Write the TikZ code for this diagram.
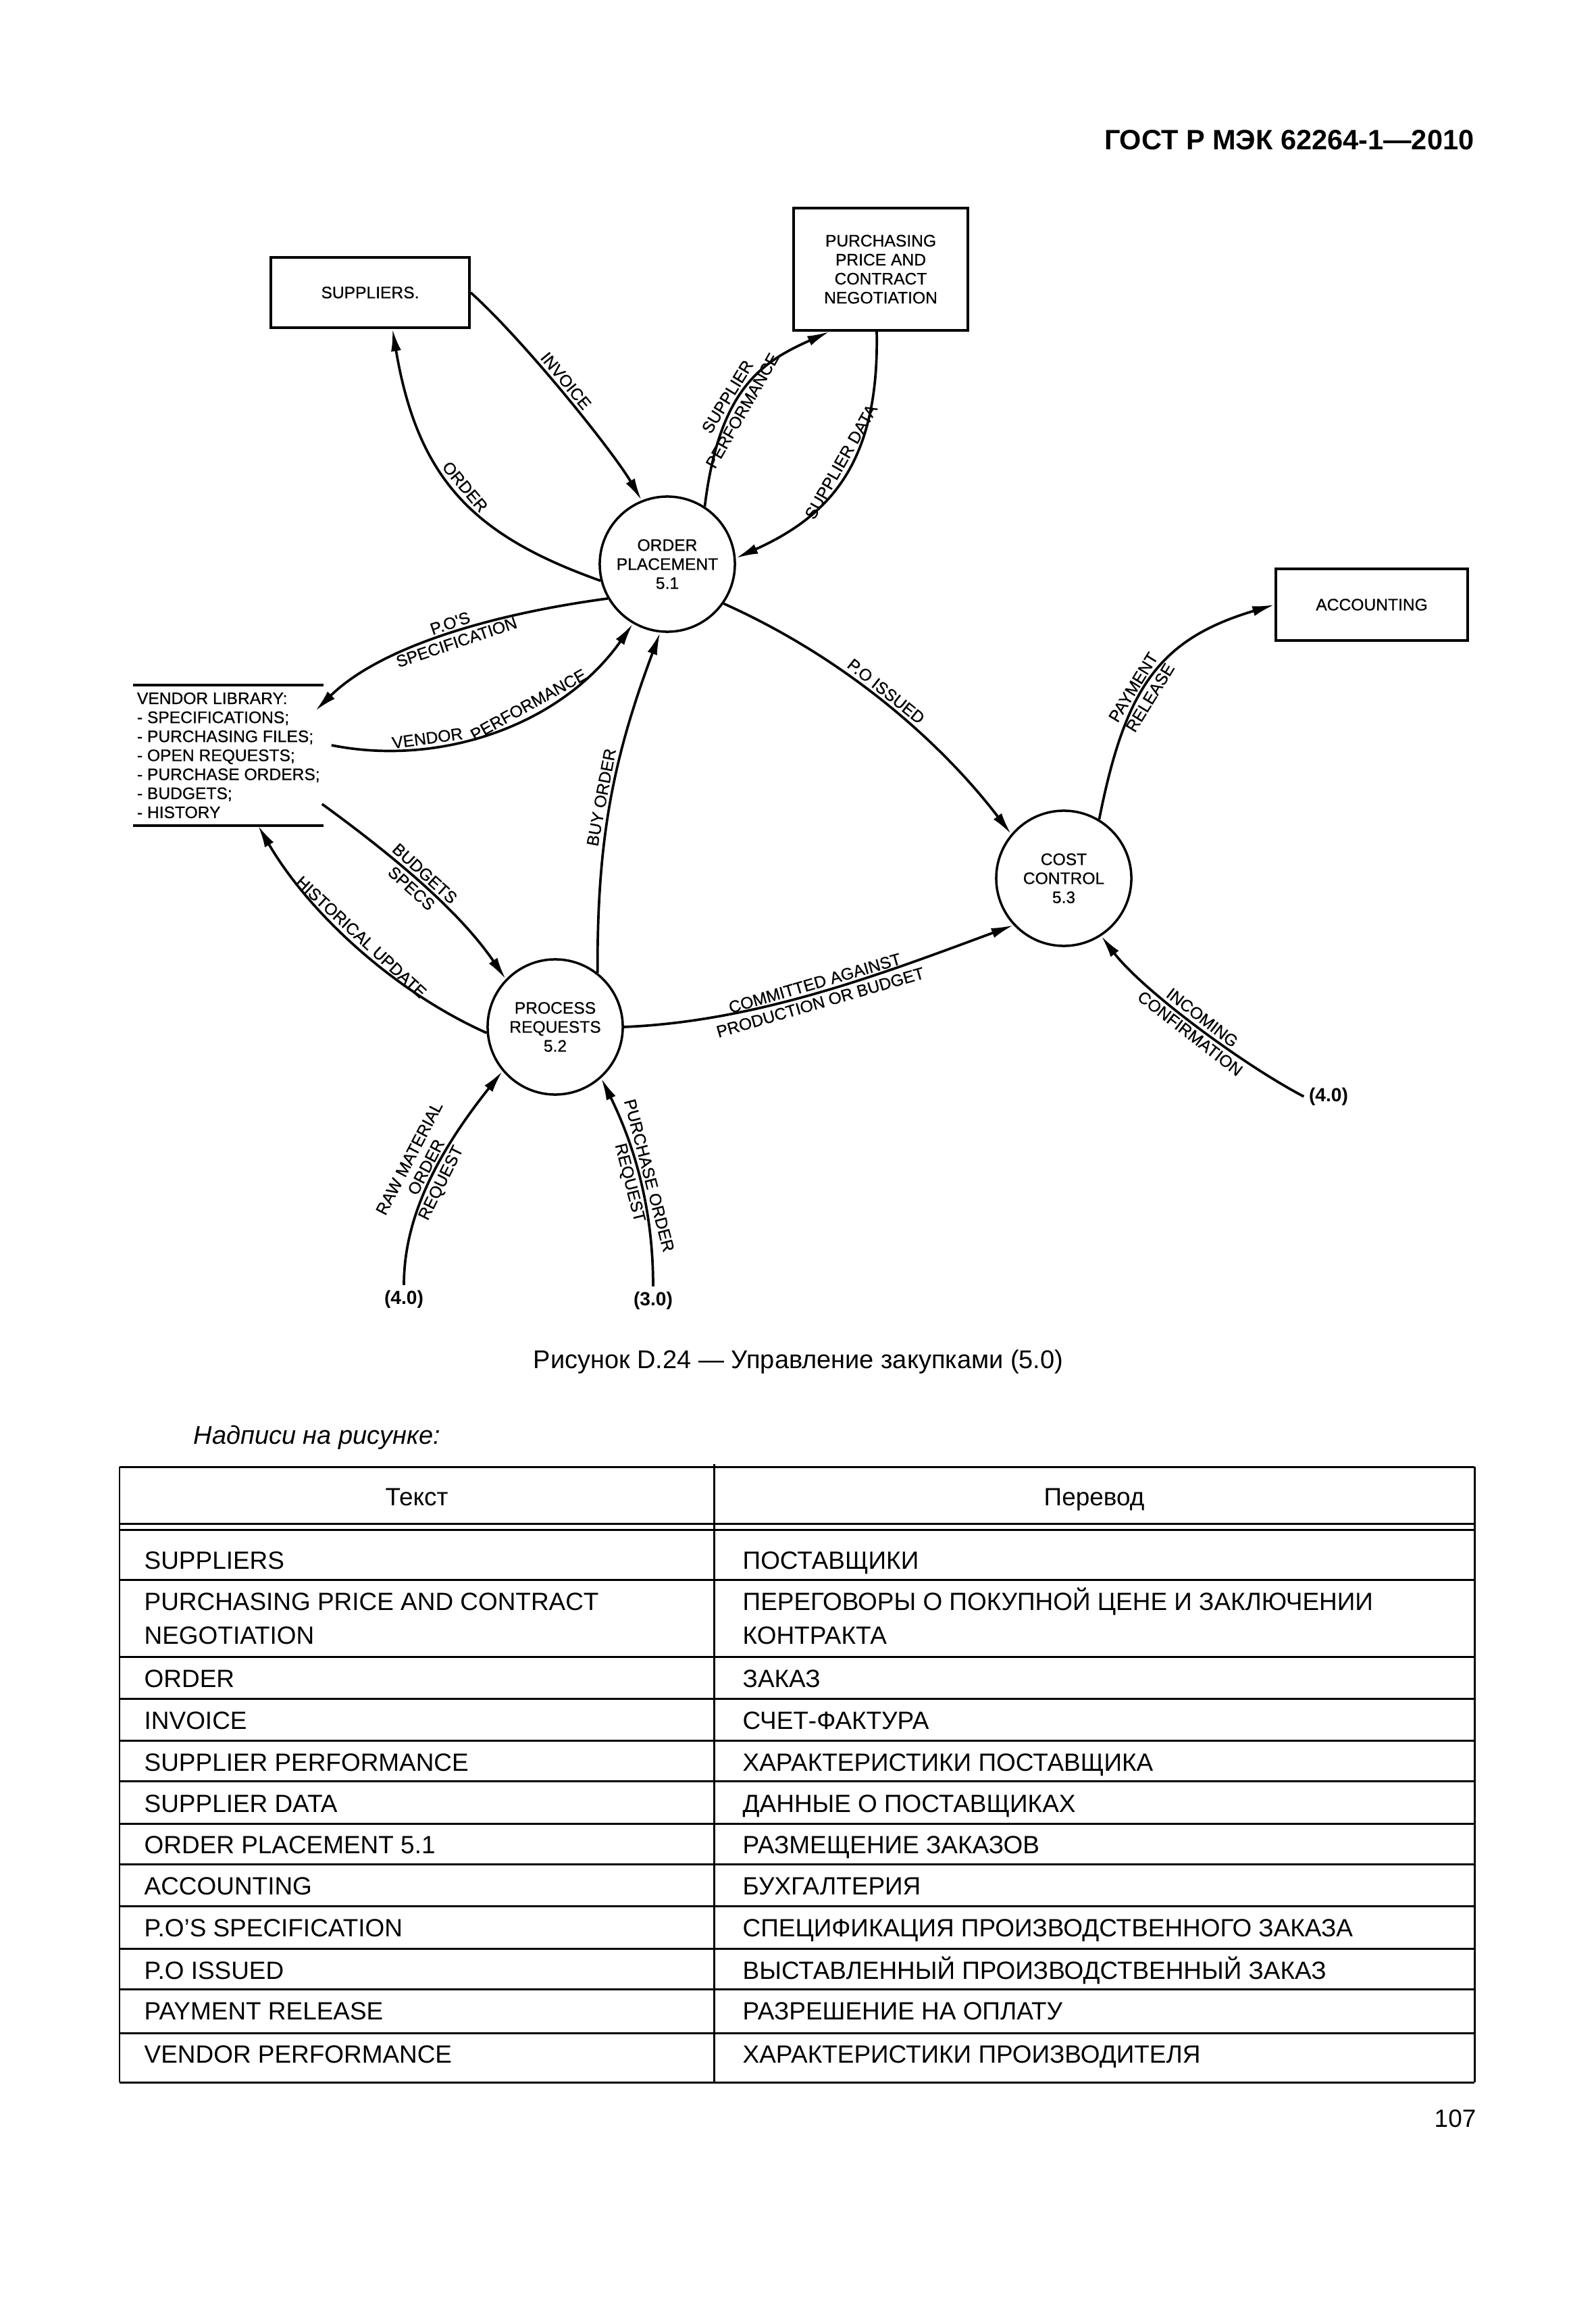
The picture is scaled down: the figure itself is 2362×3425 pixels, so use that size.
\documentclass[tikz,border=0pt]{standalone}
\usepackage{fontspec}
\setmainfont{Liberation Sans}
\newfontfamily\diagfont[FakeBold=0.6]{Liberation Sans}
\usetikzlibrary{arrows.meta,calc}
\newcommand\lblfont{\diagfont\fontsize{7}{8}\selectfont}
\newcommand\tabfont{\fontsize{10.5}{12.6}\selectfont}
\begin{document}
\begin{tikzpicture}[x=0.01cm,y=-0.01cm,
  dbox/.style={draw,line width=1pt,inner sep=0pt,align=center,font=\lblfont},
  proc/.style={draw,circle,line width=1pt,minimum size=2cm,inner sep=0pt,align=center,font=\lblfont},
  conn/.style={line width=1.05pt,-{Latex[length=3.3mm,width=1.5mm]}},
  extn/.style={font=\fontsize{8}{9.6}\selectfont\bfseries,inner sep=2pt},
  lbl/.style={font=\lblfont,inner sep=1.2pt,sloped},
  tline/.style={line width=0.85pt},
  ttext/.style={font=\tabfont,inner sep=0pt},
]
\fill[white] (0,0) rectangle (2362,3425);
\useasboundingbox (0,0) rectangle (2362,3425);

% header
\node[anchor=base east,font=\fontsize{11.8}{14}\selectfont\bfseries,inner sep=0pt] (hdr) at (2183,222) {ГОСТ Р МЭК 62264-1—2010};

% boxes
\node[dbox,minimum width=2.94cm,minimum height=1.04cm] (sup) at (548,433) {SUPPLIERS.};
\node[dbox,minimum width=2.58cm,minimum height=1.81cm] (pur) at (1304,398.5) {PURCHASING\\PRICE AND\\CONTRACT\\NEGOTIATION};
\node[dbox,minimum width=2.84cm,minimum height=1.06cm] (acc) at (2031,895) {ACCOUNTING};

% processes
\node[proc] (op) at (988,835) {ORDER\\PLACEMENT\\5.1};
\node[proc] (cc) at (1575,1300) {COST\\CONTROL\\5.3};
\node[proc] (pr) at (822,1520) {PROCESS\\REQUESTS\\5.2};

% vendor library store
\node[minimum width=2.8cm,minimum height=2.06cm,inner sep=0pt] (vendor) at (338,1118) {};
\node[anchor=west,font=\lblfont,align=left,inner xsep=0.05cm,inner ysep=0pt] (vendortxt) at (vendor.west)
 {VENDOR LIBRARY:\\- SPECIFICATIONS;\\- PURCHASING FILES;\\- OPEN REQUESTS;\\- PURCHASE ORDERS;\\- BUDGETS;\\- HISTORY};
\draw[line width=1.2pt] (vendor.north west) -- (vendor.north east);
\draw[line width=1.2pt] (vendor.south west) -- (vendor.south east);

% external references
\node[extn] (ext1) at (598,1923) {(4.0)};
\node[extn] (ext2) at (967,1925) {(3.0)};
\node[extn] (ext3) at (1967,1623) {(4.0)};

% connection points
\coordinate (sup1) at ($(sup.south)+(33,0)$);
\coordinate (pur1) at ($(pur.south west)+(55,0)$);
\coordinate (pur2) at ($(pur.south)+(-6,0)$);
\coordinate (vperf) at ($(vendor.east)+(12,-15)$);
\coordinate (vpos) at ($(vendor.north east)+(-12,38)$);
\coordinate (vbud) at ($(vendor.east)+(-2,72)$);
\coordinate (vhist) at ($(vendor.south)+(44,0)$);

% control points
\coordinate (c1a) at (705,794);   \coordinate (c1b) at (619,713);
\coordinate (c2a) at (777,505);   \coordinate (c2b) at (909,670);
\coordinate (c3a) at (1065,573);  \coordinate (c3b) at (1130,535);
\coordinate (c4a) at (1302,683);  \coordinate (c4b) at (1230,763);
\coordinate (c5a) at (1269,982);  \coordinate (c5b) at (1406,1115);
\coordinate (c6a) at (884,1240);  \coordinate (c6b) at (908,1122);
\coordinate (c7a) at (650,1135);  \coordinate (c7b) at (830,1075);
\coordinate (c8a) at (720,910);   \coordinate (c8b) at (560,960);
\coordinate (c9a) at (573,1260);  \coordinate (c9b) at (677,1344);
\coordinate (c10a) at (584,1468); \coordinate (c10b) at (457,1351);
\coordinate (c11a) at (1123,1512);\coordinate (c11b) at (1312,1439);
\coordinate (c12a) at (1666,1018);\coordinate (c12b) at (1716,946);
\coordinate (c13a) at (1837,1574);\coordinate (c13b) at (1690,1464);
\coordinate (c14a) at (598,1819); \coordinate (c14b) at (631,1727);
\coordinate (c15a) at (967,1780); \coordinate (c15b) at (935,1687);

% connectors with labels
\draw[conn] (op.194) .. controls (c1a) and (c1b) .. node[lbl,pos=0.51,above] (lorder) {ORDER} (sup1);
\draw[conn] (sup.east) .. controls (c2a) and (c2b) .. node[lbl,pos=0.46,above] (linv) {INVOICE} (op.112);
\draw[conn] (op.57) .. controls (c3a) and (c3b) ..
  node[lbl,pos=0.40,above] (lsp1) {SUPPLIER}
  node[lbl,pos=0.38,below] (lsp2) {PERFORMANCE} (pur1);
\draw[conn] (pur2) .. controls (c4a) and (c4b) .. node[lbl,pos=0.45,above] (lsd) {SUPPLIER DATA} (op.5);
\draw[conn] (op.-35) .. controls (c5a) and (c5b) .. node[lbl,pos=0.45,above] (lpoi) {P.O ISSUED} (cc.140);
\draw[conn] (pr.52) .. controls (c6a) and (c6b) .. node[lbl,pos=0.5,above] (lbuy) {BUY ORDER} (op.-96);
\draw[conn] (vperf) .. controls (c7a) and (c7b) ..
  node[lbl,pos=0.295,above] (lvp1) {VENDOR}
  node[lbl,pos=0.622,above] (lvp2) {PERFORMANCE} (op.240);
\draw[conn] (op.210) .. controls (c8a) and (c8b) ..
  node[lbl,pos=0.455,above] (lpos1) {P.O'S}
  node[lbl,pos=0.455,below] (lpos2) {SPECIFICATION} (vpos);
\draw[conn] (vbud) .. controls (c9a) and (c9b) ..
  node[lbl,pos=0.49,above] (lbud1) {BUDGETS}
  node[lbl,pos=0.49,below] (lbud2) {SPECS} (pr.136);
\draw[conn] (pr.185) .. controls (c10a) and (c10b) .. node[lbl,pos=0.51,above] (lhist) {HISTORICAL UPDATE} (vhist);
\draw[conn] (pr.east) .. controls (c11a) and (c11b) ..
  node[lbl,pos=0.49,above] (lcom1) {COMMITTED AGAINST}
  node[lbl,pos=0.49,below] (lcom2) {PRODUCTION OR BUDGET} (cc.223);
\draw[conn] (cc.59) .. controls (c12a) and (c12b) ..
  node[lbl,pos=0.42,above] (lpay1) {PAYMENT}
  node[lbl,pos=0.42,below] (lpay2) {RELEASE} (acc.west);
\draw[conn] (ext3.west) .. controls (c13a) and (c13b) ..
  node[lbl,pos=0.49,above] (linc1) {INCOMING}
  node[lbl,pos=0.49,below] (linc2) {CONFIRMATION} (cc.-57);
\draw[conn] (ext1.north) .. controls (c14a) and (c14b) ..
  node[lbl,pos=0.6,above,align=center] (lraw1) {RAW MATERIAL\\ORDER}
  node[lbl,pos=0.57,below] (lraw2) {REQUEST} (pr.220);
\draw[conn] (ext2.north) .. controls (c15a) and (c15b) ..
  node[lbl,pos=0.48,above] (lpur1) {PURCHASE ORDER}
  node[lbl,pos=0.47,below] (lpur2) {REQUEST} (pr.-48);

% caption
\node[anchor=base,font=\fontsize{10.8}{13}\selectfont,inner sep=0pt] (cap) at (1182,2025) {Рисунок D.24 — Управление закупками (5.0)};
\node[anchor=base west,font=\fontsize{10.8}{13}\selectfont\itshape,inner sep=0pt] (nadp) at (286,2137) {Надписи на рисунке:};

% table
\foreach \yy in {2171,2255,2264,2338,2452,2514,2576,2636,2699,2759,2821,2884,2944,3009,3082}
  \draw[tline] (177,\yy) -- (2183,\yy);
\draw[tline] (177,2171) -- (177,3082);
\draw[tline] (1057,2167) -- (1057,3082);
\draw[tline] (2183,2171) -- (2183,3082);

\node[ttext,anchor=base] (th1) at (617,2228) {Текст};
\node[ttext,anchor=base] (th2) at (1620,2228) {Перевод};

\foreach \yy/\ta/\tb [count=\i] in {
  2322/SUPPLIERS/ПОСТАВЩИКИ,
  2383/PURCHASING PRICE AND CONTRACT/ПЕРЕГОВОРЫ О ПОКУПНОЙ ЦЕНЕ И ЗАКЛЮЧЕНИИ,
  2433/NEGOTIATION/КОНТРАКТА,
  2497/ORDER/ЗАКАЗ,
  2559/INVOICE/СЧЕТ-ФАКТУРА,
  2621/SUPPLIER PERFORMANCE/ХАРАКТЕРИСТИКИ ПОСТАВЩИКА,
  2682/SUPPLIER DATA/ДАННЫЕ О ПОСТАВЩИКАХ,
  2743/ORDER PLACEMENT 5.1/РАЗМЕЩЕНИЕ ЗАКАЗОВ,
  2804/ACCOUNTING/БУХГАЛТЕРИЯ,
  2866/P.O'S SPECIFICATION/СПЕЦИФИКАЦИЯ ПРОИЗВОДСТВЕННОГО ЗАКАЗА,
  2929/P.O ISSUED/ВЫСТАВЛЕННЫЙ ПРОИЗВОДСТВЕННЫЙ ЗАКАЗ,
  2989/PAYMENT RELEASE/РАЗРЕШЕНИЕ НА ОПЛАТУ,
  3053/VENDOR PERFORMANCE/ХАРАКТЕРИСТИКИ ПРОИЗВОДИТЕЛЯ}
{
  \node[ttext,anchor=base west] (tl\i) at (213,\yy) {\ta};
  \node[ttext,anchor=base west] (tr\i) at (1099,\yy) {\tb};
}

\node[anchor=base east,font=\tabfont,inner sep=0pt] (pg) at (2186,3148) {107};
\end{tikzpicture}
\end{document}
